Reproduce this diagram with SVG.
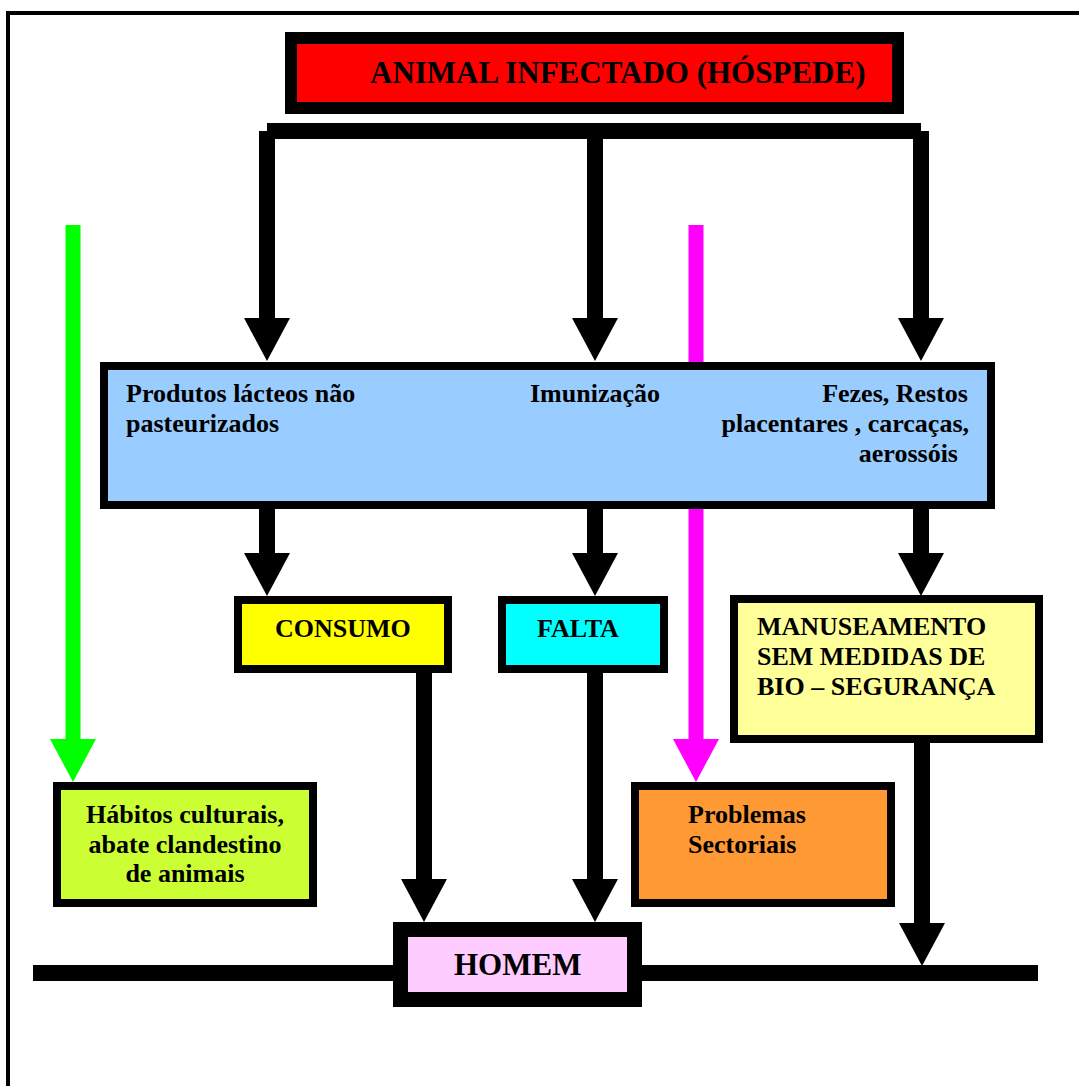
<svg xmlns="http://www.w3.org/2000/svg" width="1079" height="1086" viewBox="0 0 1079 1086">
<style>
.t{font-family:"Liberation Serif","Times New Roman",serif;font-weight:bold;fill:#000}
.box{stroke:#000}
.ln{fill:none;stroke:#000;stroke-width:16}
</style>
<defs>
<marker id="ab" viewBox="0 0 43 46" refX="0" refY="23" markerWidth="43" markerHeight="46" markerUnits="userSpaceOnUse" orient="auto"><path d="M0,0 L43,23 L0,46 z" fill="#000"/></marker>
<marker id="ag" viewBox="0 0 43 46" refX="0" refY="23" markerWidth="43" markerHeight="46" markerUnits="userSpaceOnUse" orient="auto"><path d="M0,0 L43,23 L0,46 z" fill="#00FF00"/></marker>
<marker id="am" viewBox="0 0 43 46" refX="0" refY="23" markerWidth="43" markerHeight="46" markerUnits="userSpaceOnUse" orient="auto"><path d="M0,0 L43,23 L0,46 z" fill="#FF00FF"/></marker>
</defs>
<rect width="1079" height="1086" fill="#fff"/>
<path d="M8,1086 V13 H1079" fill="none" stroke="#000" stroke-width="4"/>
<g id="connectors">
<rect x="267" y="123" width="654" height="16" fill="#000"/>
<line class="ln" x1="267" y1="131" x2="267" y2="318" marker-end="url(#ab)"/>
<line class="ln" x1="595" y1="131" x2="595" y2="318" marker-end="url(#ab)"/>
<line class="ln" x1="921" y1="131" x2="921" y2="318" marker-end="url(#ab)"/>
<line class="ln" x1="267" y1="505" x2="267" y2="553" marker-end="url(#ab)"/>
<line class="ln" x1="595" y1="505" x2="595" y2="553" marker-end="url(#ab)"/>
<line class="ln" x1="921" y1="505" x2="921" y2="553" marker-end="url(#ab)"/>
<line class="ln" x1="424" y1="670" x2="424" y2="879" marker-end="url(#ab)"/>
<line class="ln" x1="595" y1="670" x2="595" y2="879" marker-end="url(#ab)"/>
<line class="ln" x1="922" y1="740" x2="922" y2="923" marker-end="url(#ab)"/>
<line x1="73" y1="225" x2="73" y2="739" stroke="#00FF00" stroke-width="15" marker-end="url(#ag)"/>
<line x1="696" y1="225" x2="696" y2="739" stroke="#FF00FF" stroke-width="15" marker-end="url(#am)"/>
<line class="ln" x1="33" y1="973" x2="1038" y2="973"/>
</g>
<g id="animal">
<rect class="box" x="291" y="38" width="607" height="70" fill="#FF0000" stroke-width="12"/>
<text class="t" x="370" y="83" font-size="31">ANIMAL INFECTADO (HÓSPEDE)</text>
</g>
<g id="vias">
<rect class="box" x="104" y="366" width="887" height="139" fill="#99CCFF" stroke-width="8"/>
<text class="t" font-size="26"><tspan x="126" y="402">Produtos lácteos não</tspan><tspan x="126" y="432">pasteurizados</tspan></text>
<text class="t" font-size="26" x="530" y="402">Imunização</text>
<text class="t" font-size="26" text-anchor="end"><tspan x="968" y="402">Fezes, Restos</tspan><tspan x="969" y="432">placentares , carcaças,</tspan><tspan x="958" y="462">aerossóis</tspan></text>
</g>
<g id="consumo">
<rect class="box" x="238" y="600" width="210" height="69" fill="#FFFF00" stroke-width="8"/>
<text class="t" font-size="26" x="275" y="637">CONSUMO</text>
</g>
<g id="falta">
<rect class="box" x="502" y="600" width="162" height="69" fill="#00FFFF" stroke-width="8"/>
<text class="t" font-size="26" x="537" y="637">FALTA</text>
</g>
<g id="manuseamento">
<rect class="box" x="734" y="599" width="305" height="140" fill="#FFFF99" stroke-width="8"/>
<text class="t" font-size="26"><tspan x="757" y="635">MANUSEAMENTO</tspan><tspan x="757" y="665">SEM MEDIDAS DE</tspan><tspan x="757" y="695">BIO – SEGURANÇA</tspan></text>
</g>
<g id="habitos">
<rect class="box" x="57" y="786" width="256" height="117" fill="#CCFF33" stroke-width="8"/>
<text class="t" font-size="26" text-anchor="middle"><tspan x="185" y="823">Hábitos culturais,</tspan><tspan x="185" y="853">abate clandestino</tspan><tspan x="185" y="882">de animais</tspan></text>
</g>
<g id="problemas">
<rect class="box" x="635" y="786" width="256" height="117" fill="#FF9933" stroke-width="8"/>
<text class="t" font-size="26"><tspan x="688" y="823">Problemas</tspan><tspan x="688" y="853">Sectoriais</tspan></text>
</g>
<g id="homem">
<rect class="box" x="400.5" y="929.5" width="234" height="70" fill="#FFCCFF" stroke-width="15"/>
<text class="t" font-size="31" x="454" y="975">HOMEM</text>
</g>
</svg>
